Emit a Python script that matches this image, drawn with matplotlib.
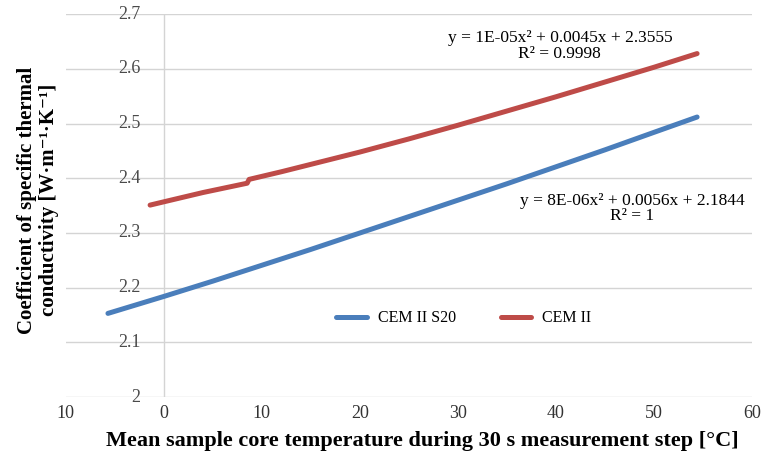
import matplotlib
matplotlib.use("Agg")
import matplotlib.pyplot as plt

# values
s20_x = [-5.7, 0, 5, 10, 15, 20, 25, 30, 35, 40, 45, 50, 54.4]
s20_y = [2.153, 2.184, 2.212, 2.241, 2.270, 2.300, 2.330, 2.360, 2.390, 2.421, 2.452, 2.484, 2.512]
cem_x = [-1.4, 0, 4, 8.5, 8.7, 12, 16, 20, 25, 30, 35, 40, 45, 50, 54.4]
cem_y = [2.351, 2.357, 2.374, 2.391, 2.398, 2.412, 2.430, 2.448, 2.472, 2.497, 2.523, 2.549, 2.576, 2.603, 2.628]

x_ticks = [-10, 0, 10, 20, 30, 40, 50, 60]
x_labels = ["10", "0", "10", "20", "30", "40", "50", "60"]
y_ticks = [2.0, 2.1, 2.2, 2.3, 2.4, 2.5, 2.6, 2.7]
y_labels = ["2", "2.1", "2.2", "2.3", "2.4", "2.5", "2.6", "2.7"]

eq_cem = "y = 1E-05x² + 0.0045x + 2.3555\nR² = 0.9998"
eq_s20 = "y = 8E-06x² + 0.0056x + 2.1844\nR² = 1"

plt.rcParams['font.family'] = ['Liberation Serif', 'DejaVu Serif']

blue = '#4a7ebb'
red = '#be4b48'
grid_c = '#d4d4d4'
txt_c = '#333333'

fig = plt.figure(figsize=(7.65, 4.58), dpi=100)
ax = fig.add_axes([0.086, 0.133, 0.897, 0.836])

ax.set_xlim(-10, 60)
ax.set_ylim(2.0, 2.7)

for v in y_ticks:
    ax.axhline(v, color=grid_c, lw=1.0, zorder=1)
ax.axvline(0, color=grid_c, lw=1.0, zorder=1)

for s in ax.spines.values():
    s.set_visible(False)

ax.plot(s20_x, s20_y, color=blue, lw=3.6, solid_capstyle='round', label='CEM II S20', zorder=3)
ax.plot(cem_x, cem_y, color=red, lw=3.6, solid_capstyle='round', label='CEM II', zorder=3)

ax.set_xticks(x_ticks)
ax.set_xticklabels(x_labels, fontsize=13, color=txt_c)
ax.set_yticks([])
ax.tick_params(axis='x', length=0, pad=6)

for v, lab in zip(y_ticks, y_labels):
    ax.text(-2.4, v, lab, ha='right', va='center', fontsize=13, color='#4a4a4a', zorder=2)

ax.set_xlabel("Mean sample core temperature during 30 s measurement step [°C]",
              fontsize=16, fontweight='bold', labelpad=6)
ax.xaxis.label.set_x(0.519)
fig.text(0.05, 0.563, "Coefficient of specific thermal\nconductivity [W·m⁻¹·K⁻¹]",
         rotation=90, ha='center', va='center', fontsize=15, fontweight='bold',
         multialignment='center', linespacing=1.1)

ax.text(40.4, 2.642, eq_cem, ha='center', va='center', fontsize=12.5,
        multialignment='center', linespacing=0.95)
ax.text(47.8, 2.345, eq_s20, ha='center', va='center', fontsize=12.5,
        multialignment='center', linespacing=0.95)

ax.legend(loc='center', bbox_to_anchor=(0.58, 0.206), ncol=2, frameon=False,
          fontsize=11.5, handlelength=1.9, columnspacing=2.8, handletextpad=0.7)

fig.savefig("out.png", dpi=100)
